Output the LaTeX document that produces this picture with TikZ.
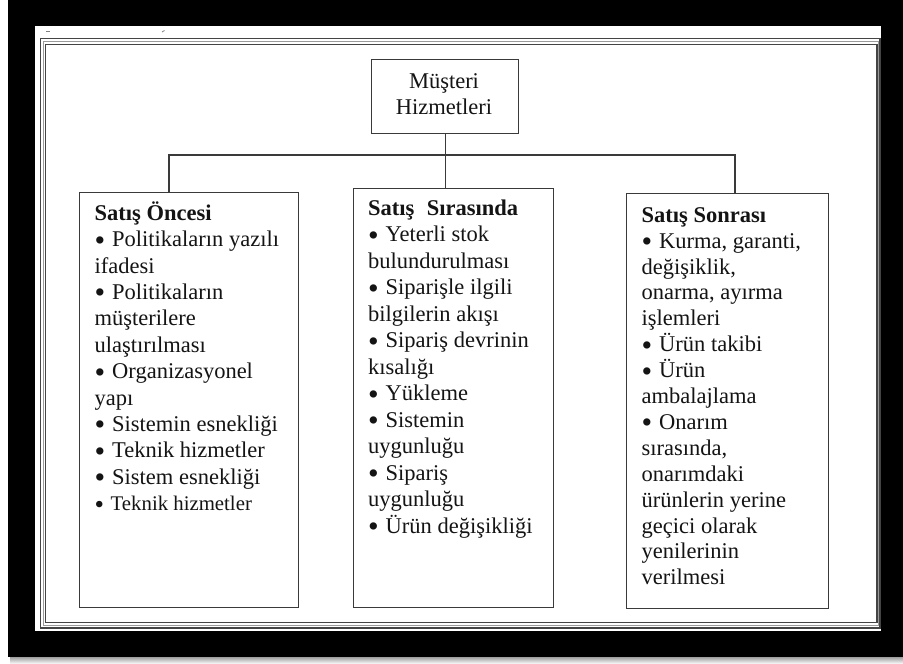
\documentclass[tikz,border=0pt]{standalone}
\usepackage{fontspec}
\setmainfont{Liberation Serif}
\definecolor{boxc}{HTML}{3A3A3A}
\definecolor{txtc}{HTML}{141414}
\definecolor{framec}{HTML}{444444}
\definecolor{framemid}{HTML}{9A9A9A}
\newcommand\bul{\makebox[17.5pt][l]{\raisebox{-3.4pt}[0pt][0pt]{\scalebox{1.35}{•}}}}
\newcommand\smallbul{\makebox[16pt][l]{\raisebox{-3pt}[0pt][0pt]{\scalebox{1.3}{•}}}}
\begin{document}
\begin{tikzpicture}[x=1pt,y=-1pt,
  box/.style={draw=boxc, line width=1.3pt, inner sep=0pt, anchor=north west},
  txt/.style={anchor=north west, inner sep=0pt, align=left, text=txtc},
  link/.style={draw=boxc, line width=1.3pt}]
% background and frame
\useasboundingbox (0,0) rectangle (903,664);
\fill[white] (0,0) rectangle (903,664);
\shade[top color=gray!75, bottom color=white] (10,657) rectangle (903,664);
\fill[black] (8,0) rectangle (903,657);
\fill[white] (35,26) rectangle (881,631);
\draw[framec, line width=1.6pt] (40.5,38.5) rectangle (880,628);
\draw[framemid, line width=1pt] (43,41.5) rectangle (878.5,625.5);
\draw[framec, line width=1.2pt] (45.5,44.5) rectangle (877,622.5);
\draw[gray, line width=0.8pt] (46,31) -- (50,31);
\draw[gray, line width=0.8pt] (162,32) -- (164.5,30.5);
% boxes
\node[box, minimum width=147pt, minimum height=74pt] (top) at (371,59) {};
\node[box, minimum width=219pt, minimum height=415pt] (pre) at (79,192) {};
\node[box, minimum width=200pt, minimum height=419pt] (mid) at (353,188) {};
\node[box, minimum width=202pt, minimum height=415pt] (post) at (626,193) {};
% connectors
\coordinate (jl) at (169,155);
\coordinate (jr) at (735,155);
\draw[link] (jl |- pre.north) -- (jl) -- (jr) -- (jr |- post.north);
\draw[link] (top.south) -- (top.south |- mid.north);
% texts
\node[txt, anchor=north, align=center, font=\fontsize{22.5}{26}\selectfont] (toptext) at (444,68)
  {\rule{0pt}{20pt}Müşteri\\Hizmetleri};
\node[txt, font=\fontsize{22.5}{26.4}\selectfont] (pretext) at (94.5,200)
  {\rule{0pt}{20pt}\textbf{Satış Öncesi}\\
   \bul Politikaların yazılı\\
   ifadesi\\
   \bul Politikaların\\
   müşterilere\\
   ulaştırılması\\
   \bul Organizasyonel\\
   yapı\\
   \bul Sistemin esnekliği\\
   \bul Teknik hizmetler\\
   \bul Sistem esnekliği\\
   {\fontsize{20.8}{26.4}\selectfont\smallbul Teknik hizmetler}};
\node[txt, font=\fontsize{22.5}{26.5}\selectfont] (midtext) at (368,195)
  {\rule{0pt}{20pt}\textbf{Satış\hspace{0.3em} Sırasında}\\
   \bul Yeterli stok\\
   bulundurulması\\
   \bul Siparişle ilgili\\
   bilgilerin akışı\\
   \bul Sipariş devrinin\\
   kısalığı\\
   \bul Yükleme\\
   \bul Sistemin\\
   uygunluğu\\
   \bul Sipariş\\
   uygunluğu\\
   \bul Ürün değişikliği};
\node[txt, font=\fontsize{22.5}{25.9}\selectfont] (posttext) at (641.5,202)
  {\rule{0pt}{20pt}\textbf{Satış Sonrası}\\
   \bul Kurma, garanti,\\
   değişiklik,\\
   onarma, ayırma\\
   işlemleri\\
   \bul Ürün takibi\\
   \bul Ürün\\
   ambalajlama\\
   \bul Onarım\\
   sırasında,\\
   onarımdaki\\
   ürünlerin yerine\\
   geçici olarak\\
   yenilerinin\\
   verilmesi};
\end{tikzpicture}
\end{document}
